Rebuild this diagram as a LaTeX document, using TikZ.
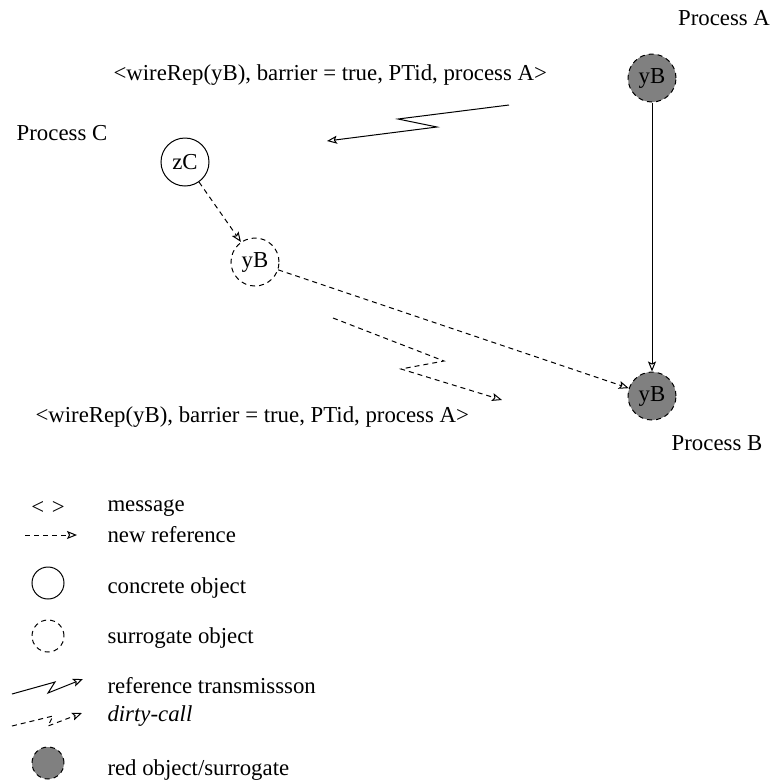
\documentclass[tikz,border=0pt]{standalone}
\usepackage{fontspec}
\setmainfont{Liberation Serif}
\usetikzlibrary{arrows.meta}
\begin{document}
\begin{tikzpicture}[x=0.5pt,y=-0.5pt,
  every node/.style={font=\fontsize{11.4}{13}\selectfont},
  line width=0.5pt,
  >={Stealth[open,length=5pt,width=4pt,inset=1pt]},
  dsh/.style={dash pattern=on 2.5pt off 2pt},
  conc/.style={draw,circle,minimum size=24pt,inner sep=0pt},
  surr/.style={draw,circle,dsh,minimum size=24pt,inner sep=0pt},
  redobj/.style={draw,circle,dsh,fill=black!50,minimum size=24pt,inner sep=0pt},
  lbl/.style={anchor=west,inner sep=0pt},
  legc/.style={circle,minimum size=16pt,inner sep=0pt}]
\useasboundingbox (0,0) rectangle (778,783);

% process labels
\node (pa) at (724,18) {Process A};
\node (pb) at (717,443) {Process B};
\node (pc) at (62,133) {Process C};

% objects
\node[redobj] (yBA) at (652,78) {yB};
\node[redobj] (yBB) at (652,396) {yB};
\node[conc] (zC) at (185,162) {zC};
\node[surr] (yBC) at (255,262) {yB};

% references
\draw[->] (yBA) -- (yBB);
\draw[dsh,->] (zC) -- (yBC);
\draw[dsh,->] (yBC) -- (yBB);

% messages
\node[lbl] (m1) at (113,75) {<wireRep(yB), barrier = true, PTid, process A>};
\node[lbl] (m2) at (35,417) {<wireRep(yB), barrier = true, PTid, process A>};

% reference transmission (top)
\coordinate (t1) at (509,105);
\coordinate (t2) at (398,119);
\coordinate (t3) at (437,127);
\coordinate (t4) at (327,141);
\draw[->] (t1) -- (t2) -- (t3) -- (t4);

% dirty call
\coordinate (d1) at (333,318);
\coordinate (d2) at (444,361);
\coordinate (d3) at (401,369);
\coordinate (d4) at (502,400);
\draw[dsh,->] (d1) -- (d2) -- (d3) -- (d4);

% legend
\node (lmsg) at (48,508) {<\,\,>};
\node[lbl] (tmsg) at (107,508) {message};

\coordinate (n1) at (25,535);
\coordinate (n2) at (77,535);
\draw[dsh,->] (n1) -- (n2);
\node[lbl] (tnew) at (107,535) {new reference};

\node[legc,draw] (lconc) at (48,583) {};
\node[lbl] (tconc) at (107,588) {concrete object};

\node[legc,draw,dsh] (lsurr) at (48,636) {};
\node[lbl] (tsurr) at (107,638) {surrogate object};

\coordinate (r1) at (12,694);
\coordinate (r2) at (55,682);
\coordinate (r3) at (48,693);
\coordinate (r4) at (83,679);
\draw[->] (r1) -- (r2) -- (r3) -- (r4);
\node[lbl] (tref) at (107,686) {reference transmissson};

\coordinate (c1) at (12,726);
\coordinate (c2) at (53,716);
\coordinate (c3) at (48,726);
\coordinate (c4) at (82,713);
\draw[dsh,->] (c1) -- (c2) -- (c3) -- (c4);
\node[lbl] (tdirty) at (107,716) {\itshape dirty-call};

\node[legc,draw,dsh,fill=black!50] (lred) at (48,763) {};
\node[lbl] (tred) at (107,770) {red object/surrogate};
\end{tikzpicture}
\end{document}
